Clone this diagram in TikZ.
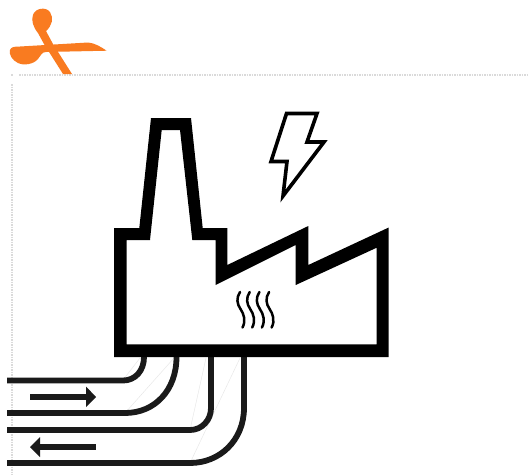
\documentclass[tikz,border=0pt]{standalone}
\definecolor{logoorange}{HTML}{F97B20}
\definecolor{dotgray}{HTML}{DADADA}
\definecolor{pipeblack}{HTML}{1A1A1A}
\tikzset{
  pipe/.style={draw=pipeblack,line width=5.8pt,line cap=butt},
  guide/.style={draw=black!10,line width=0.4pt},
  flow/.style={draw=pipeblack,line width=5.6pt},
  flowhead/.style={fill=pipeblack,draw=none},
  heat/.style={draw=black,line width=2.5pt,line cap=round},
  gridline/.style={draw=dotgray,line width=2.2pt,dash pattern=on 1.5pt off 1pt},
}
\begin{document}
\begin{tikzpicture}[x=1pt,y=-1pt]
\useasboundingbox (0,0) rectangle (529,475);
\fill[white] (0,0) rectangle (529,475);
% page guides
\draw[gridline] (19,75) -- (529,75);
\draw[gridline] (11,75) -- (13,75);
\draw[gridline] (12,84) -- (12,475);
% logo
\fill[logoorange] (38,33) .. controls (33,27) and (31,20) .. (33,15)
  .. controls (35,8) and (46,6.5) .. (50,12)
  .. controls (54,18) and (52,26) .. (46,31)
  -- (53,44) -- (72,74) -- (63,74) -- (44,44) -- cycle;
\fill[logoorange] (10,50) .. controls (11,47) and (14,46.5) .. (20,46.5)
  -- (88,42.5) .. controls (95,43) and (101,47) .. (106.7,50.7)
  -- (46,52) .. controls (42,52) and (41,55) .. (38,59)
  .. controls (34,64) and (24,66) .. (18,63)
  .. controls (12,60) and (9,55) .. (10,50) -- cycle;
% guide lines under pipes
\draw[guide] (123,380) -- (140,358);
\draw[guide] (125,413) -- (174,358);
\draw[guide] (190,430) -- (206,358);
\draw[guide] (190,463) -- (240,358);
% pipes
\draw[pipe] (7,380.5) -- (123,380.5) .. controls (135,380.5) and (144,371) .. (144,357);
\draw[pipe] (7,413) -- (125,413) .. controls (155,413) and (176.5,390) .. (176.5,357);
\draw[pipe] (7,430) -- (190,430) .. controls (202,430) and (211,420) .. (211,408) -- (211,357);
\draw[pipe] (7,463) -- (190,463) .. controls (220,463) and (244,440) .. (244,408) -- (244,357);
% flow arrows
\draw[flow] (30,397) -- (87,397);
\fill[flowhead] (86,386.5) -- (96,397) -- (86,407) -- cycle;
\draw[flow] (39,447) -- (96,447);
\fill[flowhead] (40,437) -- (30,447) -- (40,457) -- cycle;
% factory
\fill[black,even odd rule]
  (114,228) -- (139.3,228) -- (151,118) -- (191,118) -- (202.7,228) -- (227.3,228)
  -- (227.3,265) -- (308.3,226) -- (308.3,265) -- (388.7,227.5) -- (388.7,357) -- (114,357) -- cycle
  (126.7,240) -- (126.7,344.3) -- (376.7,344.3) -- (376.7,247.7) -- (295.7,285) -- (295.7,245)
  -- (215.7,285) -- (215.7,240) -- (192.3,240) -- (180,130) -- (161.7,130) -- (150,240) -- cycle;
% lightning bolt
\draw[black,line width=3.6pt,miter limit=10,line join=miter]
  (286.5,113.5) -- (317,113.5) -- (307,142) -- (324,142) -- (283,196) -- (287,161.5) -- (271,161.5) -- cycle;
% heat waves
\foreach \dx in {0,9.7,19.4,29.1}{
  \draw[heat,shift={(\dx,0)}] (240,292) .. controls (236,298) and (237,304) .. (240.5,309)
    .. controls (244,314) and (246,321) .. (242.5,327.5);
}
\end{tikzpicture}
\end{document}
